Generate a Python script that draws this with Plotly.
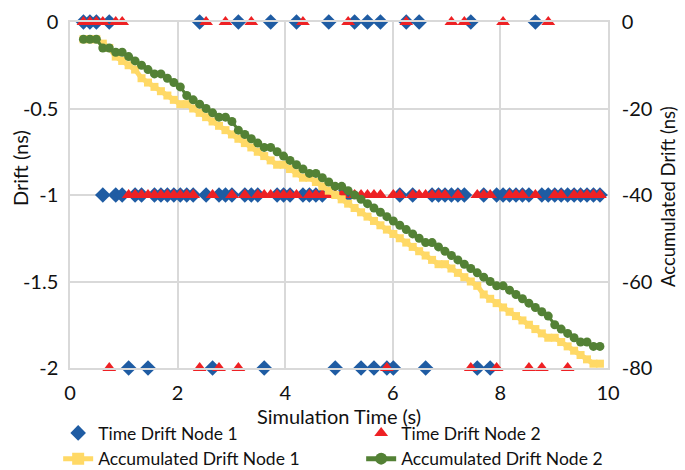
import plotly.graph_objects as go

# Simulation time (s)
time_s = [0.25, 0.37, 0.49, 0.61, 0.73, 0.85, 0.97, 1.09, 1.21, 1.33,
          1.45, 1.57, 1.69, 1.81, 1.93, 2.05, 2.17, 2.29, 2.41, 2.53,
          2.65, 2.77, 2.89, 3.01, 3.13, 3.25, 3.37, 3.49, 3.61, 3.73,
          3.85, 3.97, 4.09, 4.21, 4.33, 4.45, 4.57, 4.69, 4.81, 4.93,
          5.05, 5.17, 5.29, 5.41, 5.53, 5.65, 5.77, 5.89, 6.01, 6.13,
          6.25, 6.37, 6.49, 6.61, 6.73, 6.85, 6.97, 7.09, 7.21, 7.33,
          7.45, 7.57, 7.69, 7.81, 7.93, 8.05, 8.17, 8.29, 8.41, 8.53,
          8.65, 8.77, 8.89, 9.01, 9.13, 9.25, 9.37, 9.49, 9.61, 9.73,
          9.85]

# Time drift per step (ns)
drift_node1 = [0, 0, 0, -1, 0, -1, -1, -2, -1, -1,
               -2, -1, -1, -1, -1, -1, -1, -1, 0, -1,
               -2, -1, -1, -1, 0, -1, -1, -1, -2, 0,
               -1, -1, -1, 0, -1, -1, -1, -1, 0, -2,
               -1, -1, 0, -2, 0, -2, 0, -2, -2, -1,
               0, -1, 0, -2, -1, -1, -1, -1, -1, -1,
               0, -2, -1, -2, -1, -1, -1, -1, -1, -1,
               0, -1, -1, -1, -1, -1, -1, -1, -1, -1,
               -1]
drift_node2 = [0, 0, 0, 0, -2, 0, 0, -1, -1, -1,
               -1, -1, -1, -1, -1, -1, -1, -1, -2, 0,
               -1, -2, 0, -1, -2, -1, 0, -1, -1, -1,
               -1, -1, -1, -1, 0, -1, -1, -1, -1, -1,
               -1, 0, -1, -1, -1, -1, -1, -2, -1, -1,
               0, -1, -1, -1, -1, -1, -1, 0, -1, 0,
               -2, -1, -1, -1, -2, 0, -1, -1, -1, -2,
               -1, -2, 0, -1, -1, -2, -1, -1, -1, -1,
               -1]

# Accumulated drift (ns)
accum_node1 = [-4, -4, -4, -5, -6, -8, -9, -10, -11, -13,
               -14, -15, -16, -17, -18, -19, -19, -20, -21, -22,
               -23, -24, -25, -26, -27, -28, -29, -30, -31, -32,
               -33, -33, -34, -35, -36, -36, -37, -38, -39, -40,
               -41, -42, -43, -44, -45, -46, -47, -48, -49, -50,
               -51, -52, -53, -54, -55, -56, -56, -57, -58, -59,
               -60, -61, -63, -64, -65, -66, -67, -68, -69, -70,
               -71, -72, -73, -73, -74, -75, -76, -77, -78, -79,
               -79]
accum_node2 = [-4, -4, -4, -6, -6, -7, -7, -8, -9, -10,
               -11, -12, -12, -13, -14, -15, -17, -18, -19, -20,
               -21, -22, -22, -23, -25, -26, -27, -28, -29, -29,
               -30, -31, -32, -33, -34, -35, -35, -36, -37, -38,
               -38, -39, -40, -41, -42, -43, -44, -45, -46, -47,
               -48, -49, -50, -51, -51, -52, -53, -54, -55, -56,
               -57, -58, -59, -60, -61, -61, -62, -63, -64, -65,
               -66, -67, -68, -70, -71, -72, -73, -74, -74, -75,
               -75]

FONT = "Lato"
FS = 20
TXT = "#111111"
GRID = "#d9d9d9"

fig = go.Figure()
fig.add_trace(go.Scatter(
    x=time_s, y=drift_node1, mode="markers", name="Time Drift Node 1",
    marker=dict(symbol="diamond", size=12, color="#1F5CA3"),
    cliponaxis=False))
fig.add_trace(go.Scatter(
    x=time_s, y=drift_node2, mode="markers", name="Time Drift Node 2",
    marker=dict(symbol="triangle-up", size=12, color="#EE2124"),
    cliponaxis=False))
fig.add_trace(go.Scatter(
    x=time_s, y=accum_node1, mode="lines+markers", name="Accumulated Drift Node 1",
    yaxis="y2", line=dict(color="#FFD966", width=5),
    marker=dict(symbol="square", size=8, color="#FFD966"),
    cliponaxis=False))
fig.add_trace(go.Scatter(
    x=time_s, y=accum_node2, mode="lines+markers", name="Accumulated Drift Node 2",
    yaxis="y2", line=dict(color="#538135", width=3),
    marker=dict(symbol="circle", size=9, color="#538135"),
    cliponaxis=False))

fig.update_layout(
    width=685, height=470,
    margin=dict(l=70, r=77, t=22, b=102, autoexpand=False),
    paper_bgcolor="white", plot_bgcolor="white",
    font=dict(family=FONT, size=FS, color=TXT),
    showlegend=True,
    legend=dict(orientation="h", x=-0.022, y=-(415 - 368) / 346,
                xanchor="left", yanchor="top",
                entrywidth=258, entrywidthmode="pixels",
                font=dict(family=FONT, size=17.5, color=TXT),
                tracegroupgap=0, itemsizing="constant",
                bgcolor="rgba(0,0,0,0)"),
    xaxis=dict(range=[0, 10], tickvals=[0, 2, 4, 6, 8, 10],
               ticktext=["0", "2", "4", "6", "8", "10"],
               showgrid=True, gridcolor=GRID, gridwidth=1.5,
               showline=True, linecolor=GRID, linewidth=1.5, mirror=True,
               zeroline=False, ticks="", ticklabelstandoff=6,
               title=dict(text="Simulation Time (s)", standoff=0,
                          font=dict(family=FONT, size=FS, color=TXT))),
    yaxis=dict(range=[-2, 0], tickvals=[0, -0.5, -1, -1.5, -2],
               ticktext=["0", "-0.5", "-1", "-1.5", "-2"],
               showgrid=True, gridcolor=GRID, gridwidth=1.5,
               showline=True, linecolor=GRID, linewidth=1.5,
               zeroline=False, ticks="", ticklabelstandoff=6),
    yaxis2=dict(range=[-80, 0], tickvals=[0, -20, -40, -60, -80],
                ticktext=["0", "-20", "-40", "-60", "-80"],
                overlaying="y", side="right",
                showgrid=False, showline=True, linecolor=GRID, linewidth=1.5,
                zeroline=False, ticks="", ticklabelstandoff=8),
    annotations=[
        dict(text="Drift (ns)", textangle=-90, xref="paper", yref="paper",
             x=(20 - 70) / 538, y=1 - (168 - 22) / 346, showarrow=False,
             xanchor="center", yanchor="middle",
             font=dict(family=FONT, size=FS, color=TXT)),
        dict(text="Accumulated Drift (ns)", textangle=-90, xref="paper", yref="paper",
             x=(668 - 70) / 538, y=1 - (197 - 22) / 346, showarrow=False,
             xanchor="center", yanchor="middle",
             font=dict(family=FONT, size=18.5, color=TXT)),
    ],
)

fig.write_html("out.html")
